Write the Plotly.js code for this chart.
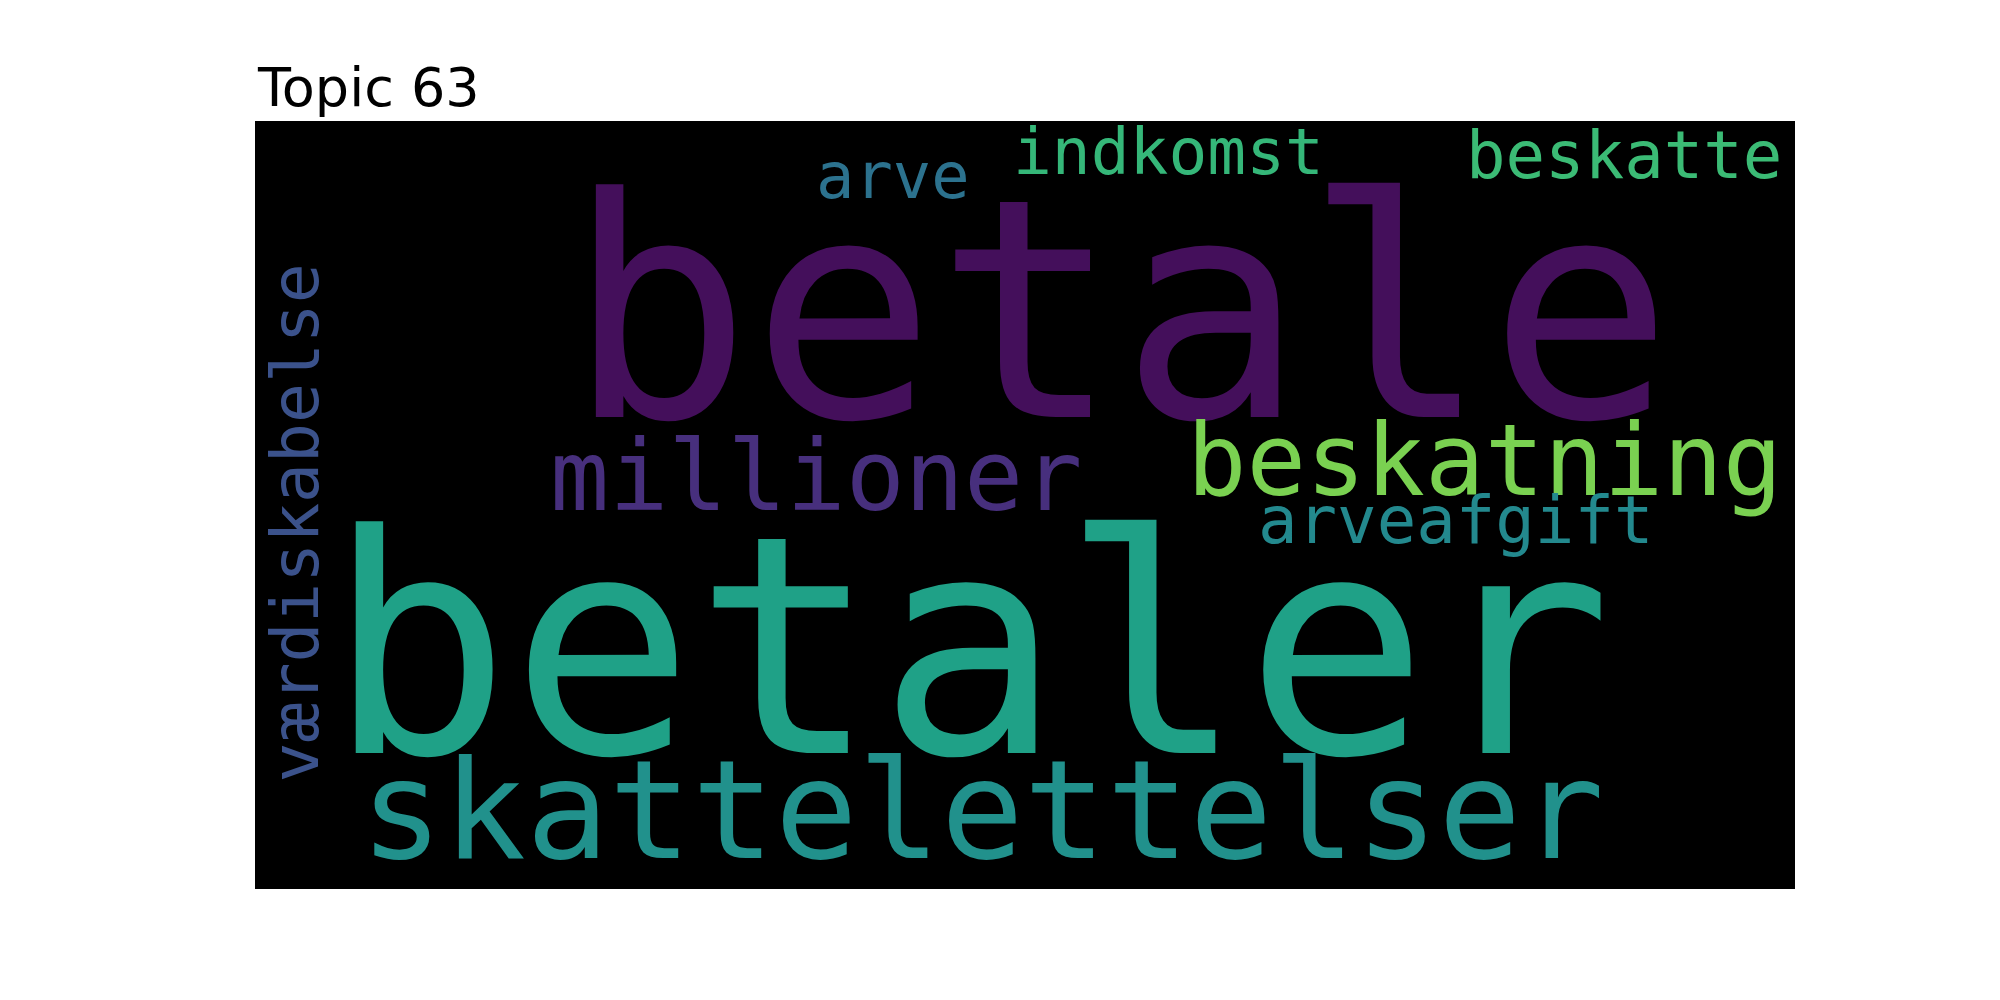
<!DOCTYPE html>
<html>
<head>
<meta charset="utf-8">
<script src="https://cdn.plot.ly/plotly-3.0.1.min.js"></script>
<style>body{margin:0;background:#fff}</style>
</head>
<body>
<div id="myDiv" style="width:2000px;height:1000px"></div>
<script>
// word cloud for topic 63
const words = ["betale", "betaler", "skattelettelser", "millioner", "beskatning",
    "arveafgift", "indkomst", "beskatte", "arve", "værdiskabelse"];
const colors = ["#440f5b", "#1fa187", "#21918c", "#472f7d", "#7ad151",
    "#23898e", "#35b779", "#3bbb75", "#2c728e", "#3b528b"];
// placement in cloud units (0..1207 wide, 0..602 tall, y down)
const posX = [678, 560, 570, 440, 964, 941, 716, 1073, 500, 31];
const posY = [149, 413, 540, 278, 266, 313, 24, 27, 43, 315];
const sizes = [240, 239, 108, 77, 77.5, 51.5, 50.6, 51.5, 50, 52];
const angles = [0, 0, 0, 0, 0, 0, 0, 0, 0, -90];

const scale = 1540 / 1207;

const annotations = words.map((w, i) => ({
    text: w,
    x: posX[i],
    y: posY[i],
    xref: "x",
    yref: "y",
    xanchor: "center",
    yanchor: "middle",
    showarrow: false,
    textangle: angles[i],
    font: { family: "DejaVu Sans Mono", size: sizes[i] * scale, color: colors[i] },
}));

annotations.push({
    text: "Topic 63",
    xref: "paper",
    yref: "paper",
    x: 0,
    y: 1.0,
    xanchor: "left",
    yanchor: "bottom",
    showarrow: false,
    font: { family: "DejaVu Sans", size: 54, color: "#000" },
});

const layout = {
    width: 2000,
    height: 1000,
    margin: { l: 255, r: 205, t: 121, b: 111 },
    paper_bgcolor: "white",
    plot_bgcolor: "black",
    showlegend: false,
    xaxis: { range: [0, 1207], visible: false, fixedrange: true },
    yaxis: { range: [602, 0], visible: false, fixedrange: true },
    annotations: annotations,
};

Plotly.newPlot("myDiv", [{ x: [], y: [], type: "scatter" }], layout, {
    displayModeBar: false,
});
</script>
</body>
</html>
